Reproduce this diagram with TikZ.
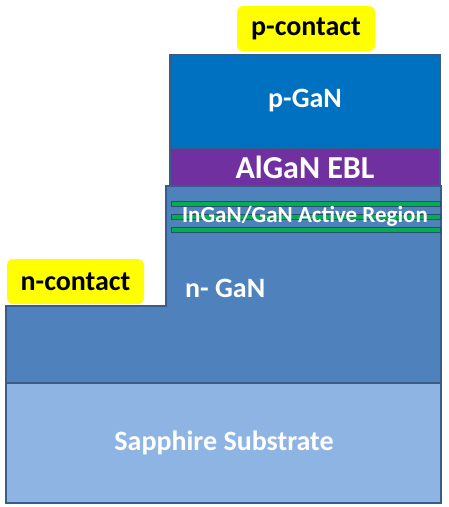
\documentclass[tikz,border=0pt]{standalone}
\usepackage{fontspec}
\setmainfont{Carlito}
\usepackage{tikz}
\usetikzlibrary{positioning}
\definecolor{ledborder}{RGB}{56,93,138}
\definecolor{ledsapphire}{RGB}{142,180,227}
\definecolor{ledngan}{RGB}{79,129,189}
\definecolor{ledpgan}{RGB}{0,112,192}
\definecolor{ledalgan}{RGB}{112,48,160}
\definecolor{ledwell}{RGB}{0,176,80}
\definecolor{ledwelledge}{RGB}{40,80,110}
\definecolor{ledyellow}{RGB}{255,255,0}
\tikzset{
  layer/.style    = {draw=ledborder, line width=1.3pt},
  layerlab/.style = {text=white, font=\bfseries\fontsize{28}{32}\selectfont, inner sep=0pt},
  well/.style     = {draw=ledwelledge, fill=ledwell, line width=0.8pt},
  contact/.style  = {rectangle, rounded corners=6pt, fill=ledyellow, text=black,
                     minimum width=138pt, minimum height=45pt, inner sep=0pt,
                     font=\bfseries\fontsize{28}{32}\selectfont},
}

\begin{document}
\begin{tikzpicture}[x=1pt, y=-1pt]
\useasboundingbox (0,0) rectangle (448,507);

% ---------- Layers ----------
\draw[layer, fill=ledsapphire] (6,383) rectangle (441,503);
\draw[layer, fill=ledngan] (6,383) -- (6,306) -- (166,306) -- (166,186)
  -- (441,186) -- (441,383) -- cycle;
\draw[layer, fill=ledalgan] (170,148) rectangle (440,186);
\draw[layer, fill=ledpgan] (170,55) rectangle (440,148);

% ---------- Quantum wells ----------
\foreach \y in {201,214,227}
  \draw[well] (171,\y) rectangle (440,\y+5);

% ---------- Labels ----------
\node[layerlab] (sapphire) at (224,443) {Sapphire Substrate};
\node[layerlab, anchor=west] (ngan) at (185,288) {n- GaN};
\node[layerlab, font=\bfseries\fontsize{23}{27}\selectfont] (active) at (305,216) {InGaN/GaN Active Region};
\node[layerlab, font=\bfseries\fontsize{32}{36}\selectfont] (algan) at (305,167) {AlGaN EBL};
\node[layerlab] (pgan) at (305,101) {p-GaN};

% ---------- Contacts ----------
\node[contact] (pcontact) at (306,28.5) {p-contact};
\node[contact, minimum width=137pt] (ncontact) at (75.5,281.5) {n-contact};

\end{tikzpicture}
\end{document}
